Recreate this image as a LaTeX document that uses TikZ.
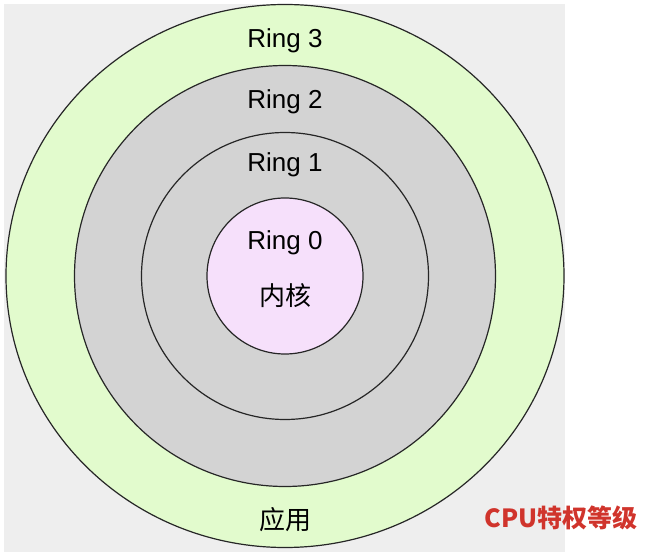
\documentclass[tikz,border=0pt]{standalone}
\usepackage{fontspec}
\setmainfont{Liberation Sans}
\newfontfamily\cjk{Noto Sans CJK SC}
\usetikzlibrary{shapes.geometric}

\definecolor{bgGrey}{HTML}{EEEEEE}
\definecolor{appGreen}{HTML}{E2FBCD}
\definecolor{midGrey}{HTML}{D3D3D3}
\definecolor{kernelPink}{HTML}{F6E0FB}
\definecolor{titleRed}{HTML}{D0342C}

\begin{document}
\begin{tikzpicture}[x=1pt,y=1pt,
    ring/.style={draw=black!85, line width=1.2pt, inner sep=0pt},
    lbl/.style={font=\fontsize{26}{30}\selectfont, anchor=base},
    cjklbl/.style={font=\fontsize{26}{30}\selectfont\cjk}]
    % Fix the size of the picture
    \useasboundingbox (0,0) rectangle (672,552);

    % Grey panel behind the rings
    \fill[bgGrey] (4,0) rectangle (565,548);

    % Draw the rings, outermost first
    \node[ring, ellipse, fill=appGreen, minimum width=558, minimum height=543] (ring3) at (285,276) {};
    \node[ring, circle, fill=midGrey, minimum size=421] (ring2) at (285,276) {};
    \node[ring, circle, fill=midGrey, minimum size=287] (ring1) at (285,276) {};
    \node[ring, circle, fill=kernelPink, minimum size=156] (ring0) at (285,276) {};

    % Ring names, one per level
    \foreach \n/\y in {3/504, 2/443, 1/380, 0/302} {
        \node[lbl] (label\n) at (285,\y) {Ring \n}; % baseline of the name
    }

    % Kernel and user space
    \node[cjklbl] (kernel) at (285,256) {内核};
    \node[cjklbl] (app) at (285,32) {应用};

    % Caption in the corner
    \node[font=\fontsize{25}{30}\selectfont\cjk\bfseries, text=titleRed] (title) at (561,34) {CPU特权等级};
\end{tikzpicture}
\end{document}
